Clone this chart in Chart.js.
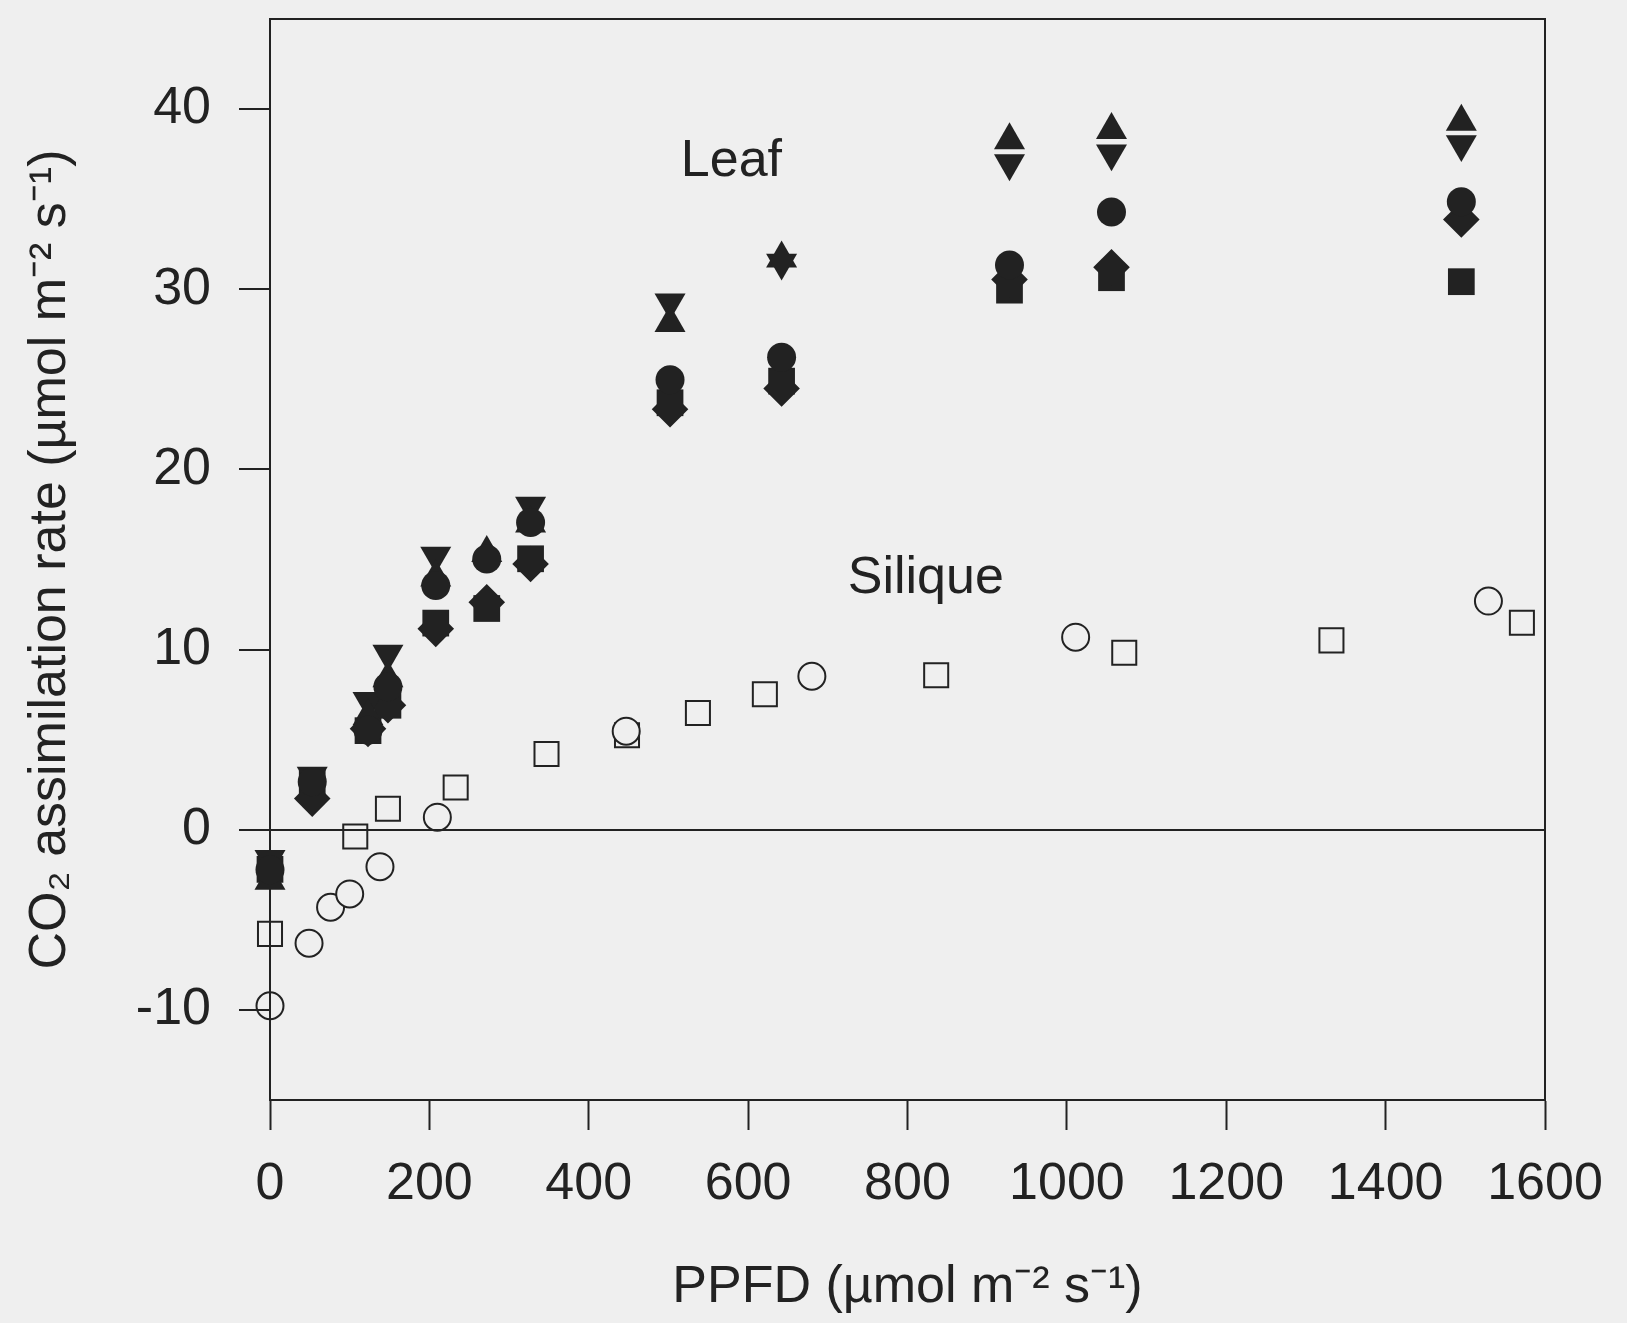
<!DOCTYPE html>
<html>
<head>
<meta charset="utf-8">
<script src="https://cdn.jsdelivr.net/npm/chart.js@4.4.1/dist/chart.umd.min.js"></script>
<style>
  html, body { margin: 0; padding: 0; background: #efefef; }
  #wrap { width: 1627px; height: 1323px; position: relative; }
</style>
</head>
<body>
<div id="wrap"><canvas id="chart"></canvas></div>
<script>
// ---- tick labels ----
const xTicks = [0, 200, 400, 600, 800, 1000, 1200, 1400, 1600];
const yTicks = [-10, 0, 10, 20, 30, 40];

// ---- Leaf (filled symbols), shared PPFD values ----
const leafPPFD     = [0, 53, 123, 148, 208, 272, 327, 502, 642, 928, 1056, 1495];
const leafCircle   = [-2.22, 2.66, 5.52, 7.94, 13.56, 15.03, 17.06, 24.98, 26.23, 31.35, 34.29, 34.85];
const leafTriUp    = [-2.84, 2.2, 6.3, 8.4, 14.0, 15.36, 17.0, 28.13, 31.71, 38.27, 38.84, 39.3];
const leafTriDown  = [-1.62, 3.0, 7.15, 9.77, 15.21, null, 17.98, 29.27, 31.48, 36.99, 37.54, 38.05];
const leafDiamond  = [null, 1.73, 5.6, 6.91, 11.15, 12.63, 14.75, 23.34, 24.49, 30.54, 31.22, 33.87];
const leafSquare   = [-2.2, 2.6, 5.5, 6.91, 11.47, 12.28, 15.04, 23.7, 24.9, 29.95, 30.64, 30.42];

// ---- Silique (open symbols) ----
const siliqueCirclePPFD = [0, 49, 76, 100, 138, 210, 447, 680, 1011, 1529];
const siliqueCircle     = [-9.77, -6.30, -4.30, -3.56, -2.05, 0.70, 5.47, 8.52, 10.69, 12.69];
const siliqueSquarePPFD = [0, 107, 148, 233, 347, 448, 537, 621, 836, 1072, 1332, 1571];
const siliqueSquare     = [-5.78, -0.37, 1.16, 2.34, 4.21, 5.25, 6.48, 7.52, 8.57, 9.82, 10.51, 11.49];

// ---- in-plot text labels (data coordinates) ----
const plotLabels = [
  { text: 'Leaf',    x: 579, y: 36.3 },
  { text: 'Silique', x: 823, y: 13.13 }
];

const INK = '#222222';
const BG = '#efefef';
const FONT = '"Liberation Sans", Arial, Helvetica, sans-serif';

const pts = (xs, ys) => xs.map((x, i) => ({ x: x, y: ys[i] })).filter(p => p.y !== null);

function filled(label, data, style, radius, rotation) {
  return {
    label: label, data: data,
    pointStyle: style, pointRadius: radius, pointHoverRadius: radius,
    pointRotation: rotation || 0,
    pointBackgroundColor: INK, pointBorderColor: INK, pointBorderWidth: 0,
    clip: false
  };
}
function open(label, data, style, radius) {
  return {
    label: label, data: data,
    pointStyle: style, pointRadius: radius, pointHoverRadius: radius,
    pointBackgroundColor: BG, pointBorderColor: INK, pointBorderWidth: 2,
    clip: false
  };
}

const framePlugin = {
  id: 'frame',
  afterDraw(chart) {
    const { ctx, chartArea: a } = chart;
    ctx.save();
    ctx.strokeStyle = INK;
    ctx.lineWidth = 2;
    ctx.beginPath();
    ctx.moveTo(a.left, a.top);
    ctx.lineTo(a.right, a.top);
    ctx.lineTo(a.right, a.bottom);
    ctx.stroke();
    ctx.restore();
  }
};

const labelPlugin = {
  id: 'plotLabels',
  afterDatasetsDraw(chart) {
    const { ctx, scales } = chart;
    ctx.save();
    ctx.font = '52px ' + FONT;
    ctx.fillStyle = INK;
    ctx.textAlign = 'center';
    ctx.textBaseline = 'alphabetic';
    plotLabels.forEach(l => {
      ctx.fillText(l.text, scales.x.getPixelForValue(l.x), scales.y.getPixelForValue(l.y));
    });
    ctx.restore();
  }
};

new Chart(document.getElementById('chart'), {
  type: 'scatter',
  data: {
    datasets: [
      open('Silique (○)', pts(siliqueCirclePPFD, siliqueCircle), 'circle', 13.5),
      open('Silique (□)', pts(siliqueSquarePPFD, siliqueSquare), 'rect', 17),
      filled('Leaf (●)', pts(leafPPFD, leafCircle), 'circle', 14.5),
      filled('Leaf (▲)', pts(leafPPFD, leafTriUp), 'triangle', 17.9),
      filled('Leaf (▼)', pts(leafPPFD, leafTriDown), 'triangle', 17.9, 180),
      filled('Leaf (◆)', pts(leafPPFD, leafDiamond), 'rectRot', 18.3),
      filled('Leaf (■)', pts(leafPPFD, leafSquare), 'rect', 18.9)
    ]
  },
  options: {
    responsive: true,
    maintainAspectRatio: false,
    animation: false,
    events: [],
    layout: { padding: { top: 16, right: 82, left: 0, bottom: 0 } },
    plugins: { legend: { display: false }, tooltip: { enabled: false } },
    scales: {
      x: {
        type: 'linear', min: 0, max: 1600,
        afterBuildTicks: s => { s.ticks = xTicks.map(v => ({ value: v })); },
        afterFit: s => { s.height = 223; s.paddingLeft = 0; s.paddingRight = 0; s.paddingTop = 0; s.paddingBottom = 0; },
        grid: { drawOnChartArea: false, tickLength: 30, tickColor: INK, tickWidth: 2, z: 1 },
        border: { color: INK, width: 2, z: 1 },
        ticks: { color: INK, font: { family: FONT, size: 52 }, padding: 23, maxRotation: 0, autoSkip: false,
                 callback: v => String(v) },
        title: { display: true, text: 'PPFD (µmol m⁻² s⁻¹)', color: INK,
                 font: { family: FONT, size: 52 }, padding: { top: 0, bottom: 4 } }
      },
      y: {
        type: 'linear', min: -15, max: 45,
        afterBuildTicks: s => { s.ticks = yTicks.map(v => ({ value: v })); },
        afterFit: s => { s.width = 270; s.paddingTop = 0; s.paddingBottom = 0; s.paddingLeft = 0; s.paddingRight = 0; },
        grid: {
          drawOnChartArea: true, tickLength: 31, tickColor: INK, tickWidth: 2, lineWidth: 2, z: 1,
          color: c => (c.tick && c.tick.value === 0) ? INK : 'rgba(0,0,0,0)'
        },
        border: { color: INK, width: 2, z: 1 },
        ticks: { color: INK, font: { family: FONT, size: 52 }, padding: 28, autoSkip: false,
                 callback: v => String(v) },
        title: { display: true, text: 'CO₂ assimilation rate (µmol m⁻² s⁻¹)', color: INK,
                 font: { family: FONT, size: 52 }, padding: { top: 19, bottom: 0 } }
      }
    }
  },
  plugins: [framePlugin, labelPlugin]
});
</script>
</body>
</html>
